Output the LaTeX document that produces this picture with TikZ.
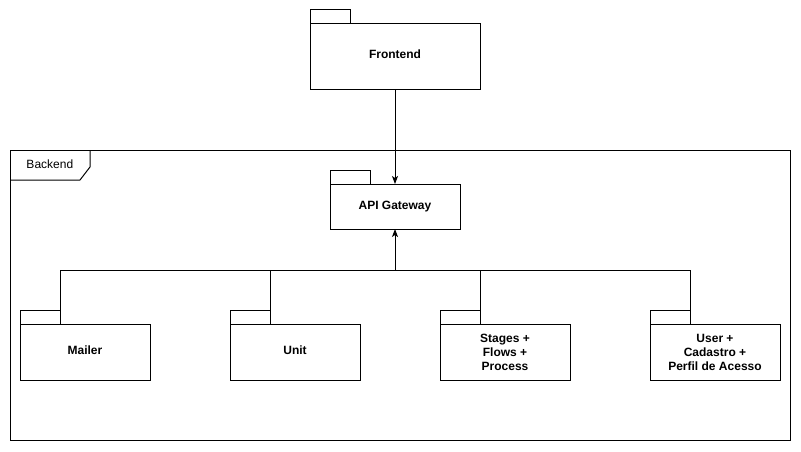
\documentclass[tikz,border=0pt]{standalone}
\usepackage{fontspec}
\setmainfont{Liberation Sans}
\usetikzlibrary{arrows.meta}
\begin{document}
\begin{tikzpicture}[x=1pt,y=-1pt,line width=1pt,
  pkg/.style={draw, rectangle, inner sep=0pt, outer sep=0pt, font=\fontsize{12}{14}\selectfont\bfseries, align=center},
  tabbox/.style={draw, rectangle, inner sep=0pt, outer sep=0pt, minimum width=40pt, minimum height=14pt, anchor=south west},
  arr/.style={-{Stealth[length=8pt,width=6pt,inset=2pt]}}]
\useasboundingbox[fill=white] (0,0) rectangle (801,452);
% Frontend
\node[pkg, minimum width=170pt, minimum height=66pt, text depth=6pt] (fe) at (395,57) {Frontend};
\node[tabbox] (fet) at (fe.north west) {};
% Backend frame
\node[draw, rectangle, inner sep=0pt, outer sep=0pt, minimum width=780pt, minimum height=290pt, anchor=north west] (be) at (10,150) {};
\coordinate (bt1) at (10,180);
\coordinate (bt2) at (80,180);
\coordinate (bt3) at (90,167);
\coordinate (bt4) at (90,150);
\draw (bt1) -- (bt2) -- (bt3) -- (bt4);
\node[anchor=west, font=\fontsize{12}{14}\selectfont, inner sep=0pt] (bel) at (26,164) {Backend};
% API Gateway
\node[pkg, minimum width=130pt, minimum height=45pt] (gw) at (395,206.5) {API Gateway};
\node[tabbox] (gwt) at (gw.north west) {};
% bottom packages
\node[pkg, minimum width=130pt, minimum height=56pt, text depth=4pt] (m) at (85,352) {Mailer};
\node[tabbox] (mt) at (m.north west) {};
\node[pkg, minimum width=130pt, minimum height=56pt, text depth=4pt] (u) at (295,352) {Unit};
\node[tabbox] (ut) at (u.north west) {};
\node[pkg, minimum width=130pt, minimum height=56pt] (s) at (505,352) {Stages +\\Flows +\\Process};
\node[tabbox] (st) at (s.north west) {};
\node[pkg, minimum width=130pt, minimum height=56pt] (p) at (715,352) {User +\\Cadastro +\\Perfil de Acesso};
\node[tabbox] (pt) at (p.north west) {};
% connectors
\draw[arr] (fe.south) -- (gw.north);
\coordinate (bus) at (395,270);
\draw (mt.north east) |- (bus);
\draw (ut.north east) |- (bus);
\draw (st.north east) |- (bus);
\draw (pt.north east) |- (bus);
\draw[arr] (bus) -- (gw.south);
\end{tikzpicture}
\end{document}
